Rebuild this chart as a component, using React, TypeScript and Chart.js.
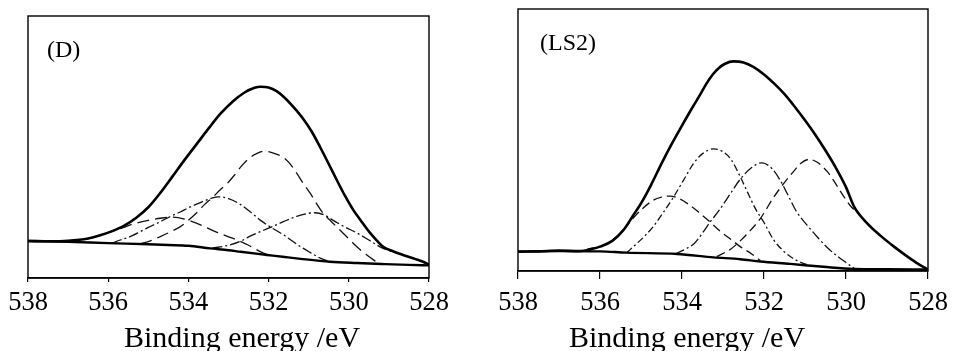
import { useEffect, useRef } from 'react';
import { Chart, registerables } from 'chart.js';

Chart.register(...registerables);

// ---------- data (binding energy eV, intensity a.u.) ----------
const ENERGY_TICKS = [538, 536, 534, 532, 530, 528];
const X_TITLE = 'Binding energy /eV';

// Panel (D)
const D_ENVELOPE: [number, number][] = [
  [538, 14.1], [537.5, 14.0], [537, 14.2], [536.5, 15.1], [536.2, 16.3], [535.9, 17.9], [535.6, 20.0],
  [535.3, 23.0], [535.0, 27.0], [534.7, 32.5], [534.4, 38.7], [534.1, 45.0], [533.8, 51.0], [533.5, 57.0],
  [533.2, 62.7], [532.9, 67.3], [532.6, 70.8], [532.35, 72.6], [532.2, 73.0], [532.0, 72.7], [531.8, 71.3],
  [531.6, 68.8], [531.4, 65.6], [531.14, 60.8], [530.93, 56.0], [530.72, 50.1], [530.5, 43.5], [530.3, 37.4],
  [530.1, 31.5], [529.89, 26.0], [529.68, 21.5], [529.47, 17.2], [529.3, 14.3], [529.14, 11.9], [528.9, 10.2],
  [528.65, 8.8], [528.35, 7.3], [528.05, 5.5], [528, 5.0],
];
const D_BASELINE: [number, number][] = [
  [538, 14.1], [537, 13.8], [536, 13.3], [535, 12.9], [534.5, 12.6], [534, 12.3], [533.46, 11.3],
  [533, 10.6], [532.7, 10.0], [532.04, 8.8], [531.6, 8.0], [531.2, 7.3], [530.47, 6.2], [529.8, 5.7],
  [529.1, 5.3], [528.5, 5.0], [528, 4.8],
];
const D_PEAK_532: [number, number][] = [
  [535.2, 13.0], [534.95, 14.2], [534.7, 15.8], [534.45, 17.6], [534.2, 19.6], [534.0, 22.0], [533.8, 24.8],
  [533.6, 28.0], [533.38, 31.0], [533.2, 33.8], [533.03, 36.1], [532.85, 39.3], [532.7, 42.3], [532.5, 45.5],
  [532.3, 47.5], [532.1, 48.4], [531.9, 47.8], [531.63, 46.0], [531.45, 43.3], [531.3, 40.0], [531.13, 36.0],
  [530.96, 32.3], [530.8, 28.3], [530.64, 24.7], [530.42, 21.3], [530.22, 18.3], [530.0, 15.0], [529.8, 11.9],
  [529.55, 8.8], [529.3, 6.0],
];
const D_PEAK_533: [number, number][] = [
  [535.9, 13.3], [535.7, 14.5], [535.5, 15.5], [535.2, 17.7], [535.0, 19.3], [534.7, 21.5], [534.45, 23.5],
  [534.2, 25.2], [534.0, 26.8], [533.7, 28.8], [533.45, 30.3], [533.25, 31.0], [533.0, 30.3], [532.75, 28.5],
  [532.46, 25.3], [532.2, 22.0], [531.97, 19.6], [531.63, 16.5], [531.4, 14.0], [531.2, 11.9], [530.97, 9.8],
  [530.7, 7.5], [530.47, 6.2],
];
const D_PEAK_534: [number, number][] = [
  [537.0, 14.0], [536.5, 15.0], [536.2, 16.3], [535.9, 17.8], [535.7, 18.8], [535.4, 20.5], [535.0, 22.0],
  [534.7, 22.8], [534.4, 23.2], [534.1, 22.5], [533.7, 20.3], [533.3, 17.5], [532.9, 15.2], [532.5, 12.5],
  [532.13, 9.5], [532.0, 8.8],
];
const D_PEAK_531: [number, number][] = [
  [533.4, 11.4], [533.0, 12.5], [532.7, 14.0], [532.46, 16.0], [532.0, 19.0], [531.63, 21.5], [531.3, 23.5],
  [531.0, 24.7], [530.84, 24.9], [530.6, 24.0], [530.39, 22.0], [530.1, 19.5], [529.8, 17.2], [529.5, 14.5],
  [529.22, 11.9], [529.0, 10.5], [528.65, 8.8], [528.35, 7.3], [528.05, 5.5],
];

// Panel (LS2)
const LS2_ENVELOPE: [number, number][] = [
  [538, 7.4], [537.5, 7.5], [537, 7.8], [536.5, 7.6], [536.2, 8.4], [536, 9.3], [535.7, 11.5], [535.43, 15.6],
  [535.2, 21.0], [535, 25.8], [534.75, 33.0], [534.5, 41.0], [534.25, 48.5], [534.0, 55.5], [533.75, 62.3],
  [533.55, 67.5], [533.4, 71.6], [533.25, 75.0], [533.1, 77.5], [532.95, 79.1], [532.75, 80.0], [532.5, 79.6],
  [532.25, 77.8], [532.0, 75.0], [531.75, 71.5], [531.5, 67.5], [531.25, 62.7], [531.0, 57.5], [530.75, 52.0],
  [530.5, 46.0], [530.25, 39.5], [530.0, 32.0], [529.8, 24.5], [529.5, 18.5], [529.16, 13.5], [528.83, 9.3],
  [528.5, 5.5], [528.25, 2.8], [528, 0.6],
];
const LS2_BASELINE: [number, number][] = [
  [538, 7.4], [537, 7.6], [536, 7.5], [535.35, 7.0], [534.12, 6.5], [533.23, 5.2], [532.58, 4.5],
  [532.09, 3.6], [531.36, 2.7], [530.55, 1.6], [529.81, 0.8], [529, 0.7], [528, 0.6],
];
const LS2_PEAK_534: [number, number][] = [
  [536.3, 8.4], [536, 9.4], [535.7, 11.8], [535.43, 15.6], [535.2, 20.0], [535, 23.3], [534.7, 27.0],
  [534.5, 28.2], [534.3, 28.6], [534.05, 27.5], [533.8, 25.0], [533.56, 22.0], [533.3, 18.5], [533.07, 15.2],
  [532.8, 12.0], [532.58, 9.3], [532.3, 6.5], [532.09, 4.0],
];
const LS2_PEAK_533: [number, number][] = [
  [535.35, 7.0], [535.1, 10.5], [534.9, 13.5], [534.7, 17.0], [534.45, 22.5], [534.2, 28.4], [533.95, 35.0],
  [533.72, 41.0], [533.5, 44.8], [533.23, 46.6], [533.0, 45.5], [532.8, 42.5], [532.58, 36.0], [532.4, 30.0],
  [532.2, 23.5], [532.0, 18.5], [531.77, 12.0], [531.55, 8.0], [531.36, 5.5], [531.1, 3.3], [530.9, 2.2],
];
const LS2_PEAK_532: [number, number][] = [
  [534.17, 6.5], [533.9, 8.5], [533.7, 10.5], [533.5, 14.5], [533.3, 19.0], [533.1, 23.0], [532.8, 30.0],
  [532.58, 35.0], [532.3, 39.5], [532.05, 41.3], [531.8, 39.0], [531.6, 34.5], [531.4, 28.5], [531.2, 22.5],
  [530.95, 17.5], [530.7, 13.0], [530.46, 9.0], [530.2, 5.5], [529.97, 2.9], [529.8, 1.0],
];
const LS2_PEAK_531: [number, number][] = [
  [533.15, 5.5], [532.8, 8.5], [532.58, 11.5], [532.42, 14.0], [532.09, 20.0], [531.77, 28.0], [531.44, 35.0],
  [531.25, 38.5], [531.11, 41.0], [530.9, 42.6], [530.7, 41.5], [530.46, 38.0], [530.3, 34.5], [530.14, 30.5],
  [529.9, 25.0], [529.78, 23.0],
];

// ---------- styling ----------
const FONT = '"Liberation Serif", "Times New Roman", Times, serif';
const DASH = [12, 6];
const DASH_SHORT = [9, 5];
const DASH_DOT = [10, 3, 2, 3];
const DASH_DOT_SHORT = [7, 3, 2, 3];

const toXY = (pts: [number, number][]) => pts.map(([x, y]) => ({ x, y }));

const solid = (label: string, pts: [number, number][], w: number) => ({
  label,
  data: toXY(pts),
  borderColor: '#000',
  borderWidth: w,
  pointRadius: 0,
  fill: false,
  cubicInterpolationMode: 'monotone' as const,
});
const dashed = (label: string, pts: [number, number][], dash: number[]) => ({
  label,
  data: toXY(pts),
  borderColor: '#111',
  borderWidth: 1.3,
  borderDash: dash,
  pointRadius: 0,
  fill: false,
  cubicInterpolationMode: 'monotone' as const,
});

const panelText = {
  id: 'panelText',
  afterDraw(chart: any, _args: any, opts: any) {
    const { ctx, chartArea } = chart;
    ctx.save();
    ctx.strokeStyle = '#000';
    ctx.lineWidth = 1.4;
    ctx.strokeRect(chartArea.left, chartArea.top, chartArea.right - chartArea.left, chartArea.bottom - chartArea.top);
    ctx.fillStyle = '#000';
    ctx.textBaseline = 'alphabetic';
    ctx.textAlign = 'left';
    ctx.font = `${opts.labelSize}px ${FONT}`;
    ctx.fillText(opts.label, chartArea.left + opts.labelDx, chartArea.top + opts.labelDy);
    ctx.font = `${opts.titleSize}px ${FONT}`;
    ctx.fillText(opts.title, chartArea.left + opts.titleDx, opts.titleY);
    ctx.restore();
  },
};

type PanelProps = {
  width: number;
  padLeft: number;
  padRight: number;
  padTop: number;
  axisHeight: number;
  tickLength: number;
  tickPadding: number;
  label: string;
  labelDx: number;
  labelDy: number;
  titleDx: number;
  datasets: any[];
};

function Panel(p: PanelProps) {
  const ref = useRef<HTMLCanvasElement | null>(null);
  useEffect(() => {
    if (!ref.current) return;
    const chart = new Chart(ref.current, {
      type: 'line',
      data: { datasets: p.datasets },
      plugins: [panelText],
      options: {
        responsive: false,
        animation: false,
        events: [],
        layout: { padding: { left: p.padLeft, right: p.padRight, top: p.padTop, bottom: 0 } },
        plugins: {
          legend: { display: false },
          tooltip: { enabled: false },
          panelText: {
            label: p.label,
            labelSize: 24,
            labelDx: p.labelDx,
            labelDy: p.labelDy,
            title: X_TITLE,
            titleSize: 30,
            titleDx: p.titleDx,
            titleY: 347,
          },
        } as any,
        scales: {
          x: {
            type: 'linear',
            reverse: true,
            min: 528,
            max: 538,
            afterBuildTicks: (s: any) => {
              s.ticks = ENERGY_TICKS.map((v) => ({ value: v }));
            },
            afterFit: (s: any) => {
              s.height = p.axisHeight;
            },
            ticks: {
              color: '#000',
              font: { family: FONT, size: 26.5 },
              padding: p.tickPadding,
              maxRotation: 0,
              autoSkip: false,
              callback: (v: any) => String(v),
            },
            grid: {
              display: true,
              drawOnChartArea: false,
              drawTicks: true,
              tickLength: p.tickLength,
              color: '#000',
              lineWidth: 1.2,
            },
            border: { display: true, color: '#000', width: 1.5 },
          },
          y: { display: false, min: 0, max: 100 },
        },
      } as any,
    });
    return () => chart.destroy();
  }, []);
  return <canvas ref={ref} width={p.width} height={351} style={{ display: 'block', width: p.width, height: 351 }} />;
}

export default function App() {
  const dSets = [
    solid('Envelope', D_ENVELOPE, 2.6),
    solid('Background', D_BASELINE, 2.4),
    dashed('532.1 eV', D_PEAK_532, DASH),
    dashed('533.3 eV', D_PEAK_533, DASH_DOT),
    dashed('534.4 eV', D_PEAK_534, DASH),
    dashed('530.8 eV', D_PEAK_531, DASH_DOT),
  ];
  const lsSets = [
    solid('Envelope', LS2_ENVELOPE, 2.6),
    solid('Background', LS2_BASELINE, 2.4),
    dashed('534.3 eV', LS2_PEAK_534, DASH_SHORT),
    dashed('533.2 eV', LS2_PEAK_533, DASH_DOT_SHORT),
    dashed('532.0 eV', LS2_PEAK_532, DASH_DOT),
    dashed('530.9 eV', LS2_PEAK_531, DASH_SHORT),
  ];
  return (
    <div style={{ position: 'fixed', left: 0, top: 0, width: 959, height: 351, display: 'flex', background: '#fff' }}>
      <Panel
        width={475}
        padLeft={28}
        padRight={46}
        padTop={16}
        axisHeight={73}
        tickLength={4}
        tickPadding={5}
        label="(D)"
        labelDx={19}
        labelDy={41}
        titleDx={96}
        datasets={dSets}
      />
      <Panel
        width={484}
        padLeft={43}
        padRight={31}
        padTop={9}
        axisHeight={80}
        tickLength={8}
        tickPadding={8}
        label="(LS2)"
        labelDx={22}
        labelDy={41}
        titleDx={51}
        datasets={lsSets}
      />
    </div>
  );
}
